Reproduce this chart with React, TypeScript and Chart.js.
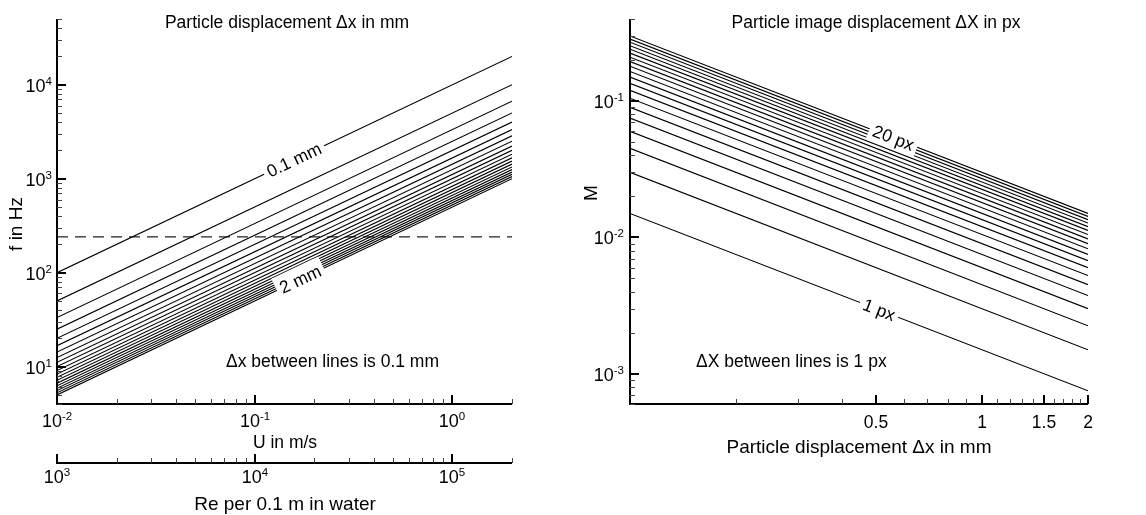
import React, { useEffect, useRef } from 'react';
import { Chart, registerables } from 'chart.js';

Chart.register(...registerables);

const FONT = "'Liberation Sans', Arial, Helvetica, sans-serif";

// ---------- Left panel data: f = U / dx ----------
const uEnds = [0.01, 2]; // U in m/s at the ends of every line
const dxMm = [0.1, 0.2, 0.3, 0.4, 0.5, 0.6, 0.7, 0.8, 0.9, 1.0, 1.1, 1.2, 1.3, 1.4, 1.5, 1.6, 1.7, 1.8, 1.9, 2.0];
const fAtUmin = [100, 50, 33.3, 25, 20, 16.7, 14.3, 12.5, 11.1, 10, 9.09, 8.33, 7.69, 7.14, 6.67, 6.25, 5.88, 5.56, 5.26, 5];
const fAtUmax = [20000, 10000, 6667, 5000, 4000, 3333, 2857, 2500, 2222, 2000, 1818, 1667, 1538, 1429, 1333, 1250, 1176, 1111, 1053, 1000];
const thresholdHz = 240;

const uTicks = [0.01, 0.1, 1];
const uTickExp = ['-2', '-1', '0'];
const reTicks = [1e3, 1e4, 1e5];
const reTickExp = ['3', '4', '5'];
const fTicks = [10, 100, 1000, 10000];
const fTickExp = ['1', '2', '3', '4'];

const leftLineLabels = ['0.1 mm', '2 mm'];
const leftLineLabelSeries = [0, 19];
const leftLineLabelAtU = [0.158, 0.17];

// ---------- Right panel data: M = dX * pixel / dx ----------
const dxEnds = [0.1, 2]; // mm
const pxSteps = [1, 2, 3, 4, 5, 6, 7, 8, 9, 10, 11, 12, 13, 14, 15, 16, 17, 18, 19, 20];
const mAtDxMin = [0.015, 0.03, 0.045, 0.06, 0.075, 0.09, 0.105, 0.12, 0.135, 0.15, 0.165, 0.18, 0.195, 0.21, 0.225, 0.24, 0.255, 0.27, 0.285, 0.3];
const mAtDxMax = [0.00075, 0.0015, 0.00225, 0.003, 0.00375, 0.0045, 0.00525, 0.006, 0.00675, 0.0075, 0.00825, 0.009, 0.00975, 0.0105, 0.01125, 0.012, 0.01275, 0.0135, 0.01425, 0.015];

const mTicks = [0.001, 0.01, 0.1];
const mTickExp = ['-3', '-2', '-1'];
const dxTicks = [0.5, 1, 1.5, 2];
const dxTickLabels = ['0.5', '1', '1.5', '2'];

const rightLineLabels = ['20 px', '1 px'];
const rightLineLabelSeries = [19, 0];
const rightLineLabelAtDx = [0.56, 0.51];

// ---------- drawing helpers ----------
const BASE = 18;
const SUP = 11.5;

function logMinorValues(min: number, max: number) {
  const out: number[] = [];
  for (let e = Math.floor(Math.log10(min)); e <= Math.ceil(Math.log10(max)); e++) {
    for (let k = 2; k <= 9; k++) {
      const v = k * Math.pow(10, e);
      if (v >= min * 0.9999 && v <= max * 1.0001) out.push(v);
    }
  }
  return out;
}

function line(ctx: CanvasRenderingContext2D, x1: number, y1: number, x2: number, y2: number, w: number, color = '#000') {
  ctx.save();
  ctx.strokeStyle = color;
  ctx.lineWidth = w;
  ctx.beginPath();
  ctx.moveTo(x1, y1);
  ctx.lineTo(x2, y2);
  ctx.stroke();
  ctx.restore();
}

function drawPow(ctx: CanvasRenderingContext2D, x: number, baseline: number, exp: string, align: 'center' | 'right') {
  ctx.save();
  ctx.fillStyle = '#000';
  ctx.textAlign = 'left';
  ctx.textBaseline = 'alphabetic';
  ctx.font = `${BASE}px ${FONT}`;
  const wb = ctx.measureText('10').width;
  ctx.font = `${SUP}px ${FONT}`;
  const ws = ctx.measureText(exp).width;
  const total = wb + ws;
  const x0 = align === 'center' ? x - total / 2 : x - total;
  ctx.font = `${BASE}px ${FONT}`;
  ctx.fillText('10', x0, baseline);
  ctx.font = `${SUP}px ${FONT}`;
  ctx.fillText(exp, x0 + wb, baseline - 7.5);
  ctx.restore();
}

function text(ctx: CanvasRenderingContext2D, s: string, x: number, y: number, size: number, align: CanvasTextAlign = 'center', rot = 0) {
  ctx.save();
  ctx.fillStyle = '#000';
  ctx.font = `${size}px ${FONT}`;
  ctx.textAlign = align;
  ctx.textBaseline = 'middle';
  ctx.translate(x, y);
  if (rot) ctx.rotate(rot);
  ctx.fillText(s, 0, 0);
  ctx.restore();
}

function lineLabel(chart: any, dsIndex: number, xVal: number, label: string, boxH: number) {
  const ctx: CanvasRenderingContext2D = chart.ctx;
  const xs = chart.scales.x;
  const ys = chart.scales.y;
  const d = chart.data.datasets[dsIndex].data;
  const x0 = xs.getPixelForValue(d[0].x);
  const y0 = ys.getPixelForValue(d[0].y);
  const x1 = xs.getPixelForValue(d[1].x);
  const y1 = ys.getPixelForValue(d[1].y);
  const cx = xs.getPixelForValue(xVal);
  const t = (cx - x0) / (x1 - x0);
  const cy = y0 + t * (y1 - y0);
  const ang = Math.atan2(y1 - y0, x1 - x0);
  ctx.save();
  ctx.font = `17.5px ${FONT}`;
  const w = ctx.measureText(label).width;
  ctx.translate(cx, cy);
  ctx.rotate(ang);
  ctx.fillStyle = '#fff';
  ctx.fillRect(-w / 2 - 4, -boxH / 2, w + 8, boxH);
  ctx.fillStyle = '#000';
  ctx.textAlign = 'center';
  ctx.textBaseline = 'middle';
  ctx.fillText(label, 0, 1);
  ctx.restore();
}

// ---------- plugins ----------
const leftPlugin = {
  id: 'leftDecor',
  afterDatasetsDraw(chart: any) {
    for (let i = 0; i < leftLineLabels.length; i++) {
      lineLabel(chart, leftLineLabelSeries[i], leftLineLabelAtU[i], leftLineLabels[i], i === 0 ? 20 : 26);
    }
  },
  afterDraw(chart: any) {
    const ctx: CanvasRenderingContext2D = chart.ctx;
    const { left, right, top, bottom } = chart.chartArea;
    const xs = chart.scales.x;
    const x2 = chart.scales.x2;
    const ys = chart.scales.y;
    const reY = bottom + 59;

    line(ctx, left, top, left, bottom + 1, 2);
    line(ctx, left - 1, bottom, right, bottom, 2);
    line(ctx, left - 1, reY, right, reY, 2);

    for (const v of logMinorValues(ys.min, ys.max)) {
      const p = Math.round(ys.getPixelForValue(v)) + 0.5;
      line(ctx, left, p, left + 5, p, 1, '#444');
    }
    fTicks.forEach((v, i) => {
      const p = Math.round(ys.getPixelForValue(v));
      line(ctx, left, p, left + 9, p, 2);
      drawPow(ctx, left - 5, p + 7, fTickExp[i], 'right');
    });

    for (const v of logMinorValues(xs.min, xs.max)) {
      const p = Math.round(xs.getPixelForValue(v)) + 0.5;
      line(ctx, p, bottom, p, bottom - 5, 1, '#444');
    }
    uTicks.forEach((v, i) => {
      const p = Math.round(xs.getPixelForValue(v));
      line(ctx, p, bottom, p, bottom - 9, 2);
      drawPow(ctx, p, bottom + 23, uTickExp[i], 'center');
    });

    for (const v of logMinorValues(x2.min, x2.max)) {
      const p = Math.round(x2.getPixelForValue(v)) + 0.5;
      line(ctx, p, reY, p, reY - 5, 1, '#444');
    }
    reTicks.forEach((v, i) => {
      const p = Math.round(x2.getPixelForValue(v));
      line(ctx, p, reY, p, reY - 9, 2);
      drawPow(ctx, p, reY + 20, reTickExp[i], 'center');
    });

    text(ctx, 'Particle displacement \u0394x in mm', 287, 23, 17.5);
    text(ctx, 'U in m/s', 285, 443, 17.5);
    text(ctx, 'Re per 0.1 m in water', 285, 505, 19);
    text(ctx, 'f in Hz', 17, 224, 19, 'center', -Math.PI / 2);
    text(ctx, '\u0394x between lines is 0.1 mm', 226, 362, 17.5, 'left');
  },
};

const rightPlugin = {
  id: 'rightDecor',
  afterDatasetsDraw(chart: any) {
    for (let i = 0; i < rightLineLabels.length; i++) {
      lineLabel(chart, rightLineLabelSeries[i], rightLineLabelAtDx[i], rightLineLabels[i], i === 0 ? 22 : 20);
    }
  },
  afterDraw(chart: any) {
    const ctx: CanvasRenderingContext2D = chart.ctx;
    const { left, right, top, bottom } = chart.chartArea;
    const xs = chart.scales.x;
    const ys = chart.scales.y;

    line(ctx, left, top, left, bottom + 1, 2);
    line(ctx, left - 1, bottom, right, bottom, 2);

    for (const v of logMinorValues(ys.min, ys.max)) {
      const p = Math.round(ys.getPixelForValue(v)) + 0.5;
      line(ctx, left, p, left + 5, p, 1, '#444');
    }
    mTicks.forEach((v, i) => {
      const p = Math.round(ys.getPixelForValue(v));
      line(ctx, left, p, left + 9, p, 2);
      drawPow(ctx, left - 6, p + 7, mTickExp[i], 'right');
    });

    for (let k = 2; k <= 19; k++) {
      const v = k / 10;
      if (dxTicks.some((t) => Math.abs(t - v) < 1e-9)) continue;
      const p = Math.round(xs.getPixelForValue(v)) + 0.5;
      line(ctx, p, bottom, p, bottom - 5, 1, '#444');
    }
    dxTicks.forEach((v, i) => {
      const p = Math.round(xs.getPixelForValue(v));
      line(ctx, p, bottom, p, bottom - 9, 2);
      ctx.save();
      ctx.fillStyle = '#000';
      ctx.font = `17.5px ${FONT}`;
      ctx.textAlign = 'center';
      ctx.textBaseline = 'alphabetic';
      ctx.fillText(dxTickLabels[i], p, bottom + 24);
      ctx.restore();
    });

    text(ctx, 'Particle image displacement \u0394X in px', 306, 23, 17.5);
    text(ctx, 'Particle displacement \u0394x in mm', 289, 448, 19);
    text(ctx, 'M', 22, 193, 19, 'center', -Math.PI / 2);
    text(ctx, '\u0394X between lines is 1 px', 126, 362, 17.5, 'left');
  },
};

function makeLeftConfig(): any {
  const datasets: any[] = dxMm.map((dx, i) => ({
    label: `${dx} mm`,
    data: [
      { x: uEnds[0], y: fAtUmin[i] },
      { x: uEnds[1], y: fAtUmax[i] },
    ],
    borderColor: '#000',
    borderWidth: 1.1,
    pointRadius: 0,
    fill: false,
  }));
  datasets.push({
    label: 'threshold',
    data: [
      { x: uEnds[0], y: thresholdHz },
      { x: uEnds[1], y: thresholdHz },
    ],
    borderColor: '#222',
    borderWidth: 1.2,
    borderDash: [11, 7],
    pointRadius: 0,
    fill: false,
  });
  return {
    type: 'line',
    data: { datasets },
    options: {
      responsive: false,
      animation: false,
      layout: { padding: { left: 57, right: 58, top: 19, bottom: 111 } },
      plugins: { legend: { display: false }, tooltip: { enabled: false } },
      scales: {
        x: { type: 'logarithmic', min: 0.01, max: 2, display: false },
        x2: { type: 'logarithmic', axis: 'x', position: 'bottom', min: 1000, max: 200000, display: false },
        y: { type: 'logarithmic', min: 4, max: 50000, display: false },
      },
    },
    plugins: [leftPlugin],
  };
}

function makeRightConfig(): any {
  const datasets: any[] = pxSteps.map((n, i) => ({
    label: `${n} px`,
    data: [
      { x: dxEnds[0], y: mAtDxMin[i] },
      { x: dxEnds[1], y: mAtDxMax[i] },
    ],
    borderColor: '#000',
    borderWidth: 1.1,
    pointRadius: 0,
    fill: false,
  }));
  return {
    type: 'line',
    data: { datasets },
    options: {
      responsive: false,
      animation: false,
      layout: { padding: { left: 60, right: 58, top: 19, bottom: 111 } },
      plugins: { legend: { display: false }, tooltip: { enabled: false } },
      scales: {
        x: { type: 'logarithmic', min: 0.1, max: 2, display: false },
        y: { type: 'logarithmic', min: 0.0006, max: 0.4, display: false },
      },
    },
    plugins: [rightPlugin],
  };
}

export default function App() {
  const leftRef = useRef<HTMLCanvasElement>(null);
  const rightRef = useRef<HTMLCanvasElement>(null);
  useEffect(() => {
    document.body.style.margin = '0';
    const c1 = new Chart(leftRef.current as HTMLCanvasElement, makeLeftConfig());
    const c2 = new Chart(rightRef.current as HTMLCanvasElement, makeRightConfig());
    return () => {
      c1.destroy();
      c2.destroy();
    };
  }, []);
  return (
    <div style={{ position: 'relative', width: 1146, height: 515, background: '#fff' }}>
      <canvas ref={leftRef} width={570} height={515} style={{ position: 'absolute', left: 0, top: 0 }} />
      <canvas ref={rightRef} width={576} height={515} style={{ position: 'absolute', left: 570, top: 0 }} />
    </div>
  );
}
